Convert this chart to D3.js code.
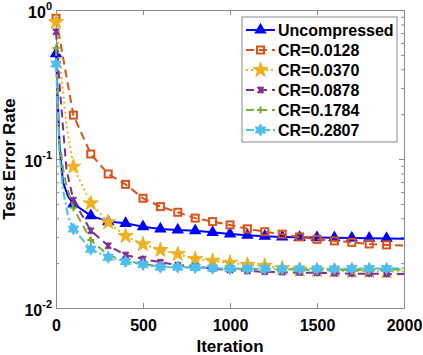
<!DOCTYPE html>
<html>
<head>
<meta charset="utf-8">
<script src="https://cdn.jsdelivr.net/npm/d3@7"></script>
<style>
  body { margin: 0; background: #fff; }
  svg text { font-family: Arial, "Liberation Sans", sans-serif; font-weight: bold; fill: #000; }
</style>
</head>
<body>
<div class="chart"></div>
<script>
// ---- data ----
var seriesNames = ["Uncompressed", "CR=0.0128", "CR=0.0370", "CR=0.0878", "CR=0.1784", "CR=0.2807"];

var itUncompressed = [0, 20, 40, 70, 100, 200, 300, 400, 500, 600, 700, 800, 900, 1000, 1100, 1200, 1300, 1400, 1500, 1600, 1700, 1800, 1900, 2000];
var errUncompressed = [0.51, 0.125, 0.070, 0.056, 0.050, 0.0417, 0.0380, 0.0370, 0.0351, 0.0339, 0.0334, 0.0330, 0.0322, 0.0314, 0.0308, 0.0303, 0.0300, 0.0298, 0.0297, 0.0296, 0.0295, 0.0294, 0.0293, 0.0292];

var itCR0128 = [0, 100, 200, 300, 400, 500, 600, 700, 800, 900, 1000, 1100, 1200, 1300, 1400, 1500, 1600, 1700, 1800, 1900, 2000];
var errCR0128 = [0.88, 0.197, 0.108, 0.0793, 0.0676, 0.0545, 0.0479, 0.0439, 0.0401, 0.0380, 0.0361, 0.0340, 0.0325, 0.0313, 0.0300, 0.0289, 0.0282, 0.0276, 0.0269, 0.0265, 0.0263];

var itCR0370 = [0, 30, 60, 100, 200, 300, 400, 500, 600, 700, 800, 900, 1000, 1100, 1200, 1300, 1400, 1500, 1600, 1700, 1800, 1900, 2000];
var errCR0370 = [0.83, 0.37, 0.17, 0.0888, 0.0504, 0.0376, 0.0304, 0.0268, 0.0245, 0.0230, 0.0213, 0.0207, 0.0201, 0.0195, 0.0192, 0.0185, 0.0181, 0.0179, 0.0178, 0.0177, 0.0177, 0.0176, 0.0176];

var itCR0878 = [0, 20, 40, 60, 100, 200, 300, 400, 500, 600, 700, 800, 900, 1000, 1100, 1200, 1300, 1400, 1500, 1600, 1700, 1800, 1900, 2000];
var errCR0878 = [0.715, 0.32, 0.165, 0.085, 0.053, 0.0330, 0.0262, 0.0227, 0.0213, 0.0203, 0.0194, 0.0190, 0.0184, 0.0180, 0.0177, 0.0175, 0.0174, 0.0173, 0.0172, 0.0171, 0.0170, 0.0170, 0.0169, 0.0169];

var itCR1784 = [0, 10, 20, 40, 60, 100, 200, 300, 400, 500, 600, 700, 800, 900, 1000, 1100, 1200, 1300, 1400, 1500, 1600, 1700, 1800, 1900, 2000];
var errCR1784 = [0.556, 0.26, 0.135, 0.087, 0.066, 0.047, 0.0286, 0.0226, 0.0207, 0.0198, 0.0190, 0.0188, 0.0187, 0.0185, 0.0184, 0.0183, 0.0182, 0.0181, 0.0181, 0.0180, 0.0180, 0.0180, 0.0180, 0.0181, 0.0181];

var itCR2807 = [0, 20, 40, 70, 100, 200, 300, 400, 500, 600, 700, 800, 900, 1000, 1100, 1200, 1300, 1400, 1500, 1600, 1700, 1800, 1900, 2000];
var errCR2807 = [0.434, 0.11, 0.062, 0.041, 0.0339, 0.0248, 0.0219, 0.0205, 0.0196, 0.0188, 0.0188, 0.0187, 0.0185, 0.0184, 0.0184, 0.0184, 0.0183, 0.0183, 0.0183, 0.0183, 0.0184, 0.0184, 0.0184, 0.0185];

var xTicks = [0, 500, 1000, 1500, 2000];
var yDecades = [1e-2, 1e-1, 1e0];
var yExponents = ["-2", "-1", "0"];

// ---- styles ----
var colors = ["#0000ff", "#d95319", "#edb120", "#7e2f8e", "#77ac30", "#4dbeee"];
var dashes = [null, "8,5", "2,3", "8,5", "8,5", "8,3,2,3"];
var markers = ["triangle", "square", "star", "x", "plus", "hexagram"];

var series = [
  {its: itUncompressed, errs: errUncompressed},
  {its: itCR0128, errs: errCR0128},
  {its: itCR0370, errs: errCR0370},
  {its: itCR0878, errs: errCR0878},
  {its: itCR1784, errs: errCR1784},
  {its: itCR2807, errs: errCR2807}
].map(function(s, i) {
  return {
    name: seriesNames[i], color: colors[i], dash: dashes[i], marker: markers[i],
    values: s.its.map(function(it, j) { return {it: it, err: s.errs[j]}; })
  };
});

// ---- layout ----
var W = 423, H = 355;
var margin = {top: 10, right: 19, bottom: 47, left: 56},
    width = W - margin.left - margin.right,
    height = H - margin.top - margin.bottom;

var x = d3.scaleLinear().domain([0, 2000]).range([0, width]);
var y = d3.scaleLog().domain([1e-2, 1e0]).range([height, 0]);

var svg = d3.select(".chart").append("svg")
    .attr("width", W)
    .attr("height", H)
  .append("g")
    .attr("transform", "translate(" + margin.left + "," + margin.top + ")");

var axisColor = "#8a8a8a";

// minor ticks for log axis
var minorTicks = [];
yDecades.slice(0, 2).forEach(function(d) {
  for (var k = 2; k <= 9; k++) minorTicks.push(d * k);
});

function styleAxis(g) {
  g.select(".domain").attr("stroke", axisColor);
  g.selectAll(".tick line").attr("stroke", axisColor);
}

// bottom axis
svg.append("g")
    .attr("transform", "translate(0," + height + ")")
    .call(d3.axisBottom(x).tickValues(xTicks).tickSize(-5).tickSizeOuter(0).tickPadding(12).tickFormat(d3.format("d")))
    .call(styleAxis)
    .selectAll("text").style("font-size", "16px").style("font-family", "Arial, 'Liberation Sans', sans-serif").style("font-weight", "bold");

// top axis
svg.append("g")
    .call(d3.axisTop(x).tickValues(xTicks).tickSize(-5).tickSizeOuter(0).tickFormat(""))
    .call(styleAxis);

// left axis (major + minor)
svg.append("g")
    .call(d3.axisLeft(y).tickValues(yDecades).tickSize(-5).tickSizeOuter(0).tickFormat(""))
    .call(styleAxis);
svg.append("g")
    .call(d3.axisLeft(y).tickValues(minorTicks).tickSize(-3).tickSizeOuter(0).tickFormat(""))
    .call(styleAxis);

// right axis
svg.append("g")
    .attr("transform", "translate(" + width + ",0)")
    .call(d3.axisRight(y).tickValues(yDecades).tickSize(-5).tickSizeOuter(0).tickFormat(""))
    .call(styleAxis);
svg.append("g")
    .attr("transform", "translate(" + width + ",0)")
    .call(d3.axisRight(y).tickValues(minorTicks).tickSize(-3).tickSizeOuter(0).tickFormat(""))
    .call(styleAxis);

// y tick labels 10^n
var yl = svg.selectAll(".ylab")
    .data(yDecades)
  .enter().append("text")
    .attr("class", "ylab")
    .attr("x", -4)
    .attr("y", function(d) { return y(d) + 8; })
    .attr("text-anchor", "end")
    .style("font-size", "16px");
yl.append("tspan").text("10");
yl.append("tspan")
    .attr("dy", -8)
    .style("font-size", "11px")
    .text(function(d, i) { return yExponents[i]; });

// axis titles
svg.append("text")
    .attr("x", width / 2)
    .attr("y", height + 44)
    .attr("text-anchor", "middle")
    .style("font-size", "17px")
    .text("Iteration");

svg.append("text")
    .attr("transform", "translate(" + (-margin.left + 15) + "," + (height / 2) + ") rotate(-90)")
    .attr("text-anchor", "middle")
    .style("font-size", "17px")
    .text("Test Error Rate");

// ---- marker shapes ----
function hexagramPath(R) {
  var r = R * 0.55, p = [];
  for (var k = 0; k < 12; k++) {
    var a = -Math.PI / 2 + k * Math.PI / 6, rr = (k % 2 === 0) ? R : r;
    p.push([rr * Math.cos(a), rr * Math.sin(a)]);
  }
  return "M" + p.join("L") + "Z";
}

function drawMarker(g, type, color) {
  if (type === "triangle") {
    g.append("path").attr("d", d3.symbol().type(d3.symbolTriangle).size(42)())
      .attr("fill", color).attr("stroke", color).attr("stroke-width", 1.5);
  } else if (type === "square") {
    g.append("rect").attr("x", -3.5).attr("y", -3.5).attr("width", 7).attr("height", 7)
      .attr("fill", "none").attr("stroke", color).attr("stroke-width", 2);
  } else if (type === "star") {
    g.append("path").attr("d", d3.symbol().type(d3.symbolStar).size(70)())
      .attr("fill", color).attr("stroke", color).attr("stroke-width", 1);
  } else if (type === "x") {
    g.append("path").attr("d", "M-3,-3L3,3M-3,3L3,-3M0,-3.5L0,3.5")
      .attr("stroke", color).attr("stroke-width", 2).attr("fill", "none");
  } else if (type === "plus") {
    g.append("path").attr("d", "M-3.5,0L3.5,0M0,-3.5L0,3.5")
      .attr("stroke", color).attr("stroke-width", 2).attr("fill", "none");
  } else if (type === "hexagram") {
    g.append("path").attr("d", hexagramPath(6))
      .attr("fill", color).attr("stroke", color).attr("stroke-width", 1);
  }
}

// ---- lines & markers ----
var line = d3.line()
    .x(function(d) { return x(d.it); })
    .y(function(d) { return y(d.err); });

series.forEach(function(s) {
  svg.append("path")
      .datum(s.values)
      .attr("fill", "none")
      .attr("stroke", s.color)
      .attr("stroke-width", 2)
      .attr("stroke-dasharray", s.dash)
      .attr("d", line);

  svg.selectAll(null)
      .data(s.values.filter(function(d) { return d.it % 100 === 0 && d.it < 2000; }))
    .enter().append("g")
      .attr("transform", function(d) { return "translate(" + x(d.it) + "," + y(d.err) + ")"; })
      .each(function() { drawMarker(d3.select(this), s.marker, s.color); });
});

// ---- legend ----
var legend = svg.append("g")
    .attr("transform", "translate(" + (242 - margin.left) + "," + (17 - margin.top) + ")");

legend.append("rect")
    .attr("width", 155)
    .attr("height", 125)
    .attr("fill", "#fff")
    .attr("stroke", axisColor);

var item = legend.selectAll(".item")
    .data(series)
  .enter().append("g")
    .attr("class", "item")
    .attr("transform", function(d, i) { return "translate(0," + (13 + i * 20) + ")"; });

item.append("line")
    .attr("x1", 4).attr("x2", 33)
    .attr("stroke", function(d) { return d.color; })
    .attr("stroke-width", 2)
    .attr("stroke-dasharray", function(d) { return d.dash; });

item.each(function(d) {
  var g = d3.select(this).append("g").attr("transform", "translate(18.5,0)");
  drawMarker(g, d.marker, d.color);
});

item.append("text")
    .attr("x", 36)
    .attr("dy", "0.36em")
    .style("font-size", "16px")
    .text(function(d) { return d.name; });
</script>
</body>
</html>
